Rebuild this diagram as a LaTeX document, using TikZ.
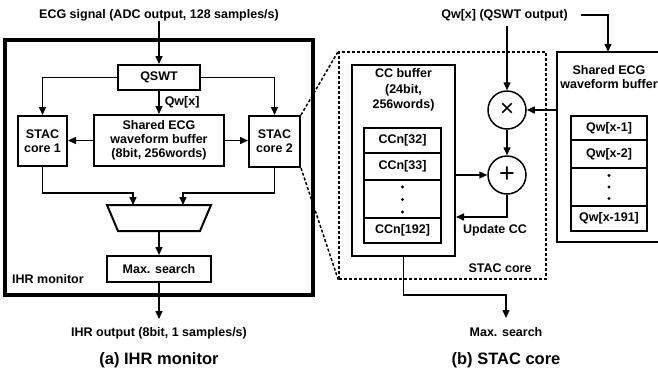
\documentclass[tikz,border=0pt]{standalone}
\usepackage{fontspec}
\setmainfont{Liberation Sans}
\usetikzlibrary{arrows.meta}
\begin{document}
\begin{tikzpicture}[x=1pt,y=-1pt,
  every node/.style={font=\fontsize{12.5}{14}\selectfont\bfseries, align=center, inner sep=0pt},
  box/.style={draw, line width=2pt, inner sep=0pt},
  conn/.style={line width=1.5pt, -{Triangle[length=8pt,width=7pt]}},
  plain/.style={line width=1.5pt},
  zoomline/.style={line width=1.5pt, dash pattern=on 3pt off 2pt},
  caption/.style={font=\fontsize{16.5}{18}\selectfont\bfseries},
  dotfill/.style={fill=black}
]
\useasboundingbox (0,0) rectangle (658,373);

% ---------- (a) IHR monitor ----------
\node[draw, line width=4pt, minimum width=308, minimum height=255] (ihr) at (159,167.5) {};
\node (ecg) at (159,15) {ECG signal (ADC output, 128 samples/s)};
\node[box, minimum width=82, minimum height=25] (qswt) at (159,77.5) {QSWT};
\node[box, minimum width=49, minimum height=50] (c1) at (42.5,141) {STAC\\core 1};
\node[box, minimum width=130, minimum height=51] (sbuf) at (159,140.5) {Shared ECG\\waveform buffer\\(8bit, 256words)};
\node[box, minimum width=51, minimum height=51] (c2) at (274.5,141.5) {STAC\\core 2};
\node[box, minimum width=104, minimum height=26] (max) at (159,269) {Max. search};
\draw[line width=2pt, line join=miter] (107,205) -- (211,205) -- (200,231) -- (118,231) -- cycle;
\coordinate (muxl) at (133,205);
\coordinate (muxr) at (183,205);
\coordinate (muxb) at (159,231);
\coordinate (j1) at (133,193);
\coordinate (j2) at (183,193);
\coordinate (ihrend) at (159,319);

\draw[conn] (ecg) -- (qswt);
\draw[conn] (qswt.west) -| (c1.north);
\draw[conn] (qswt.east) -| (c2.north);
\draw[conn] (qswt) -- (sbuf) node[midway, anchor=west, xshift=5pt] (qwx) {Qw[x]};
\draw[conn] (sbuf.west) -- (sbuf.west -| c1.east);
\draw[conn] (sbuf.east) -- (sbuf.east -| c2.west);
\draw[conn] (c1.south) |- (j1) -- (muxl);
\draw[conn] (c2.south) |- (j2) -- (muxr);
\draw[conn] (muxb) -- (max);
\draw[conn] (max) -- (ihrend);

\node[anchor=west] (ihrlbl) at (12,279) {IHR monitor};
\node (ihrtxt) at (159,333) {IHR output (8bit, 1 samples/s)};
\node[caption] (capa) at (159,360) {(a) IHR monitor};

% ---------- (b) STAC core ----------
\node[draw, zoomline, minimum width=207, minimum height=227] (stac) at (442.5,165.5) {};
\draw[zoomline] (c2.north east) -- (stac.north west);
\draw[zoomline] (c2.south east) -- (stac.south west);

\node (qwtxt) at (504.5,15) {Qw[x] (QSWT output)};
\node[circle, draw, line width=1.5pt, minimum size=38, inner sep=0pt,
      font=\fontsize{24}{24}\selectfont\mdseries] (mul) at (507,110) {×};
\node[circle, draw, line width=1.5pt, minimum size=38, inner sep=0pt,
      font=\fontsize{27}{27}\selectfont\mdseries] (add) at (507,175) {+};

\node[box, minimum width=103, minimum height=191] (ccb) at (403.5,160.5) {};
\node[font=\fontsize{12.5}{15.5}\selectfont\bfseries] (cctxt) at (403.5,90) {CC buffer\\(24bit,\\256words)};
\node[box, minimum width=77, minimum height=25] (cc32) at (402.5,140.5) {CCn[32]};
\node[box, minimum width=77, minimum height=27] (cc33) at (402.5,166.5) {CCn[33]};
\node[box, minimum width=77, minimum height=38] (ccd) at (402.5,199) {};
\node[box, minimum width=77, minimum height=25] (cc192) at (402.5,230.5) {CCn[192]};
\fill (402.5,187) circle (1.7);
\fill (402.5,199.5) circle (1.7);
\fill (402.5,212) circle (1.7);

\node[minimum width=102, minimum height=190] (wbuf) at (608,147) {};
\draw[line width=2pt] (wbuf.north east) -- (wbuf.north west) -- (wbuf.south west) -- (wbuf.south east);
\node (wtxt) at (609,77) {Shared ECG\\waveform buffer};
\node[box, minimum width=76, minimum height=24] (qw1) at (609,128) {Qw[x-1]};
\node[box, minimum width=76, minimum height=28] (qw2) at (609,154) {Qw[x-2]};
\node[box, minimum width=76, minimum height=38] (qwd) at (609,187) {};
\node[box, minimum width=76, minimum height=25] (qw191) at (609,218.5) {Qw[x-191]};
\fill (609,175.5) circle (1.7);
\fill (609,187) circle (1.7);
\fill (609,198.5) circle (1.7);

\draw[conn] ([xshift=13pt]qwtxt.east) -| (wbuf.north);
\draw[conn, shorten <=5pt] (qwtxt.south -| mul.north) -- (mul.north);
\draw[conn] (wbuf.west |- mul.east) -- (mul.east);
\draw[conn] (mul) -- (add);
\draw[conn] (ccb.east |- add.west) -- (add.west);
\draw[conn] (add.south) |- (cc192.north -| ccb.east);

\node (upd) at (495,230) {Update CC};
\node (stl) at (500,268) {STAC core};
\coordinate (j3) at (506,295);
\coordinate (mxend) at (506,318);
\draw[conn] (ccb.south) |- (j3) -- (mxend);
\node (maxs) at (506,332) {Max. search};
\node[caption] (capb) at (506,360) {(b) STAC core};
\end{tikzpicture}
\end{document}
